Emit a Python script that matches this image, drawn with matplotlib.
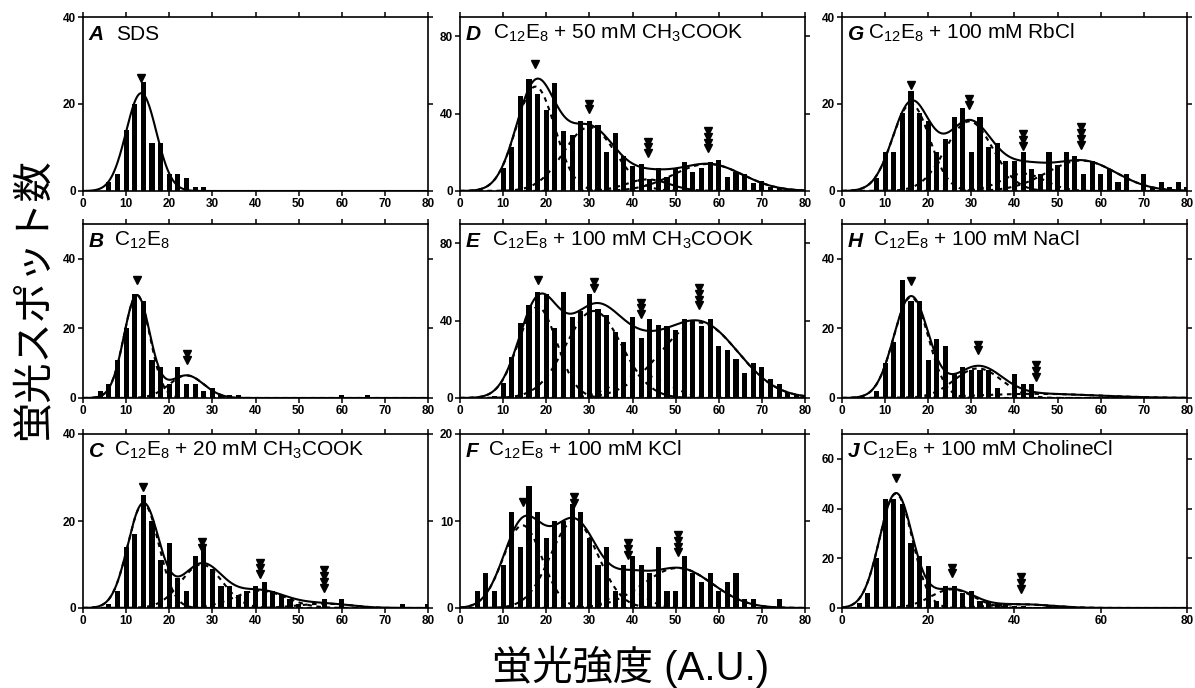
import numpy as np
import matplotlib.pyplot as plt
from matplotlib.transforms import offset_copy

plt.rcParams['font.family'] = ['Liberation Sans', 'DejaVu Sans']
plt.rcParams['mathtext.fontset'] = 'custom'
plt.rcParams['mathtext.rm'] = 'Liberation Sans'
plt.rcParams['mathtext.it'] = 'Liberation Sans:italic'
plt.rcParams['mathtext.bf'] = 'Liberation Sans:bold'

# histogram bins (fluorescence intensity, A.U.), 2..80 step 2
bins = np.arange(2, 81, 2)

# spot counts per bin
counts_A = [0, 0, 2, 4, 14, 20, 25, 11, 11, 4,
            4, 3, 1, 1, 0, 0, 0, 0, 0, 0,
            0, 0, 0, 0, 0, 0, 0, 0, 0, 0,
            0, 0, 0, 0, 0, 0, 0, 0, 0, 0]
counts_B = [0, 2, 4, 11, 20, 30, 28, 11, 9, 4,
            9, 4, 4, 2, 3, 1, 1, 1, 0, 0,
            0, 0, 0, 0, 0, 0, 0, 0, 0, 1,
            0, 0, 1, 0, 0, 0, 0, 0, 0, 0]
counts_C = [0, 0, 1, 4, 14, 17, 26, 20, 11, 15,
            7, 4, 12, 14, 9, 5, 5, 3, 4, 5,
            6, 4, 3, 2, 1, 0, 0, 2, 0, 2,
            0, 0, 0, 0, 0, 0, 1, 0, 0, 1]
counts_D = [0, 0, 0, 0, 12, 23, 49, 58, 50, 42,
            56, 31, 29, 36, 36, 34, 20, 30, 18, 13,
            14, 6, 12, 7, 12, 15, 10, 12, 15, 16,
            7, 10, 9, 4, 5, 2, 2, 1, 1, 0]
counts_E = [0, 0, 0, 1, 8, 21, 39, 48, 55, 54,
            36, 55, 42, 45, 54, 46, 43, 34, 29, 42,
            31, 41, 38, 37, 35, 41, 40, 37, 41, 27,
            25, 20, 13, 18, 16, 10, 7, 3, 2, 0]
counts_F = [0, 2, 4, 2, 5, 11, 7, 14, 11, 8,
            10, 10, 12, 11, 8, 5, 7, 2, 5, 6,
            5, 4, 7, 2, 2, 6, 4, 3, 4, 2,
            3, 4, 1, 1, 0, 0, 1, 0, 0, 0]
counts_G = [0, 0, 0, 3, 9, 9, 18, 23, 18, 16,
            9, 12, 17, 19, 9, 17, 10, 11, 7, 7,
            9, 5, 4, 9, 6, 9, 8, 4, 7, 4,
            5, 2, 4, 0, 4, 1, 2, 1, 2, 1]
counts_H = [0, 0, 0, 2, 10, 16, 34, 28, 28, 11,
            17, 15, 7, 9, 8, 8, 8, 3, 0, 7,
            4, 4, 0, 0, 0, 0, 0, 0, 0, 0,
            0, 0, 0, 0, 0, 0, 0, 0, 0, 0]
counts_J = [0, 2, 6, 20, 44, 44, 42, 26, 21, 17,
            3, 9, 9, 6, 7, 3, 3, 2, 2, 1,
            1, 0, 0, 1, 0, 0, 0, 0, 0, 0,
            0, 0, 0, 0, 0, 0, 0, 0, 0, 0]

# gaussian fit components: centre, height, standard deviation
centre_A = [13.5]
height_A = [22.5]
sd_A = [3.5]
centre_B = [12.5, 24.0]
height_B = [29.5, 6.5]
sd_B = [3.0, 4.0]
centre_C = [14.0, 27.5, 41.0, 56.0]
height_C = [24.0, 10.0, 4.0, 1.0]
sd_C = [3.6, 4.8, 6.0, 6.0]
centre_D = [17.5, 30.0, 43.5, 57.5]
height_D = [54.0, 33.0, 6.0, 14.0]
sd_D = [4.5, 6.0, 5.0, 8.0]
centre_E = [18.0, 31.0, 42.0, 55.5]
height_E = [47.0, 45.0, 12.0, 39.0]
sd_E = [4.5, 6.5, 6.0, 9.0]
centre_F = [14.5, 26.5, 39.0, 50.5]
height_F = [9.5, 10.0, 2.0, 4.6]
sd_F = [4.5, 5.5, 4.0, 8.0]
centre_G = [16.0, 29.5, 42.0, 55.5]
height_G = [20.0, 16.0, 4.0, 7.0]
sd_G = [4.3, 5.5, 5.0, 8.0]
centre_H = [16.0, 31.5, 45.0]
height_H = [29.0, 8.5, 1.2]
sd_H = [4.0, 5.5, 14.0]
centre_J = [12.5, 25.5, 41.5]
height_J = [46.0, 7.5, 1.5]
sd_J = [3.8, 5.0, 7.0]

letters = ['A', 'B', 'C', 'D', 'E', 'F', 'G', 'H', 'J']
titles = ['SDS',
          r'C$_{12}$E$_8$',
          r'C$_{12}$E$_8$ + 20 mM CH$_3$COOK',
          r'C$_{12}$E$_8$ + 50 mM CH$_3$COOK',
          r'C$_{12}$E$_8$ + 100 mM CH$_3$COOK',
          r'C$_{12}$E$_8$ + 100 mM KCl',
          r'C$_{12}$E$_8$ + 100 mM RbCl',
          r'C$_{12}$E$_8$ + 100 mM NaCl',
          r'C$_{12}$E$_8$ + 100 mM CholineCl']
all_counts = [counts_A, counts_B, counts_C, counts_D, counts_E,
              counts_F, counts_G, counts_H, counts_J]
all_fits = [(centre_A, height_A, sd_A), (centre_B, height_B, sd_B),
            (centre_C, height_C, sd_C), (centre_D, height_D, sd_D),
            (centre_E, height_E, sd_E), (centre_F, height_F, sd_F),
            (centre_G, height_G, sd_G), (centre_H, height_H, sd_H),
            (centre_J, height_J, sd_J)]
ylims = [40, 50, 40, 90, 90, 20, 40, 50, 70]
yticks = [[0, 20, 40], [0, 20, 40], [0, 20, 40],
          [0, 40, 80], [0, 40, 80], [0, 10, 20],
          [0, 20, 40], [0, 20, 40], [0, 20, 40, 60]]

# layout (pixels of a 1195x688 figure)
W, H = 1195, 688
col_left = [83, 460, 842]
col_w = 345
row_top = [17, 224, 434]
row_h = 174
title_gap = [9, 7, 7, 9, 9, 7, 3, 7, 2]


def gauss(x, c, h, s):
    return h * np.exp(-(x - c) ** 2 / (2 * s ** 2))


fig = plt.figure(figsize=(W / 100, H / 100), dpi=100)
xs = np.linspace(0, 80, 600)

for i in range(9):
    col, row = i // 3, i % 3
    ax = fig.add_axes([col_left[col] / W, 1 - (row_top[row] + row_h) / H,
                       col_w / W, row_h / H])
    ax.bar(bins, all_counts[i], width=1.2, color='black', zorder=2)

    centres, heights, sds = all_fits[i]
    comps = [gauss(xs, c, h, s) for c, h, s in zip(centres, heights, sds)]
    total = np.sum(comps, axis=0)
    if len(comps) > 1:
        for comp in comps:
            ax.plot(xs, comp, color='black', lw=1.5, ls=(0, (2.2, 2.2)), zorder=3)
    ax.plot(xs, total, color='black', lw=1.5, zorder=4)

    # peak arrows: n stacked triangles for the n-th peak
    for n, c in enumerate(centres, start=1):
        yc = sum(gauss(c, cc, hh, ss) for cc, hh, ss in zip(centres, heights, sds))
        for k in range(n):
            tr = offset_copy(ax.transData, fig=fig, x=0, y=11 + k * 4.2, units='points')
            ax.plot([c], [yc], marker='v', ms=6, color='black', transform=tr,
                    clip_on=False, zorder=5)

    ax.set_xlim(0, 80)
    ax.set_ylim(0, ylims[i])
    if letters[i] == 'J':
        ax.set_xticks([0, 20, 40, 60, 80])
    else:
        ax.set_xticks(range(0, 81, 10))
    ax.set_yticks(yticks[i])
    ax.tick_params(direction='out', top=True, right=True, length=3.5, width=1.1,
                   labelsize=8.5, pad=1.5)
    for lbl in ax.get_xticklabels() + ax.get_yticklabels():
        lbl.set_fontweight('bold')
    for sp in ax.spines.values():
        sp.set_linewidth(1.2)

    let = ax.text(0.017, 0.87, letters[i], transform=ax.transAxes, fontsize=15,
                  fontweight='bold', fontstyle='italic', va='baseline', ha='left')
    ax.annotate(titles[i], xy=(1, 0), xycoords=let, xytext=(title_gap[i], 0),
                textcoords='offset points', fontsize=15, va='bottom', ha='left')

cjk = ['Noto Sans CJK JP', 'DejaVu Sans']
fig.text(0.028, 0.565, '蛍光スポット数', rotation=90, fontsize=29, family=cjk,
         ha='center', va='center')
fig.text(0.528, 0.03, '蛍光強度 (A.U.)', fontsize=29,
         family=['Liberation Sans', 'Noto Sans CJK JP'],
         ha='center', va='center')

fig.savefig('out.png', dpi=100)
